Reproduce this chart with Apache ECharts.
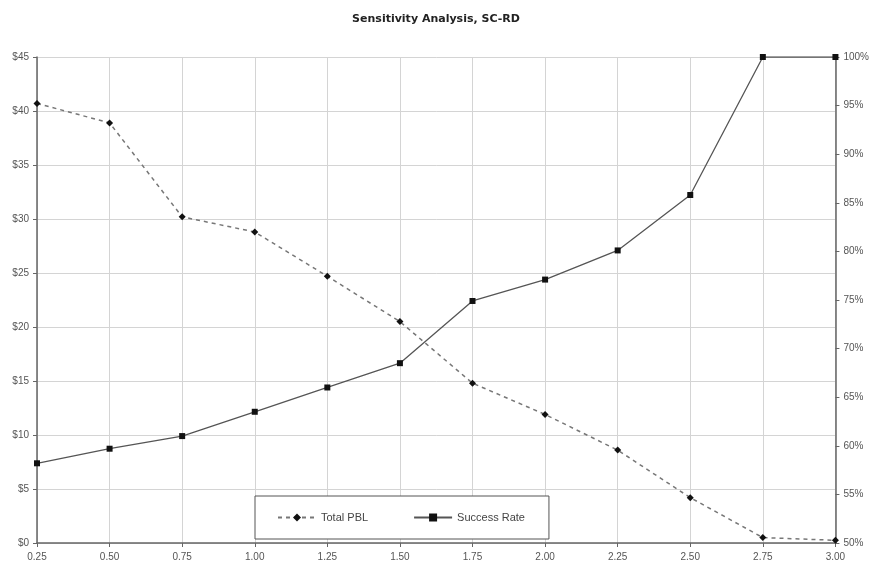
<!DOCTYPE html>
<html><head><meta charset="utf-8">
<script src="https://cdn.jsdelivr.net/npm/echarts@6/dist/echarts.min.js"></script>
<style>html,body{margin:0;padding:0;background:#fff}#c{width:872px;height:573px}</style>
</head><body><div id="c"></div>
<script>
const categories = ["0.25","0.50","0.75","1.00","1.25","1.50","1.75","2.00","2.25","2.50","2.75","3.00"];
const totalPBL = [40.7, 38.9, 30.2, 28.8, 24.7, 20.5, 14.8, 11.9, 8.6, 4.2, 0.5, 0.25];
const successRate = [58.2, 59.7, 61.0, 63.5, 66.0, 68.5, 74.9, 77.1, 80.1, 85.8, 100, 100];
const leftTicks = {min: 0, max: 45, interval: 5};
const rightTicks = {min: 50, max: 100, interval: 5};

const chart = echarts.init(document.getElementById('c'), null, {renderer: 'canvas'});
const labelStyle = {color: '#555', fontSize: 10, fontFamily: 'Liberation Sans, Arial, sans-serif'};
chart.setOption({
  animation: false,
  backgroundColor: '#fff',
  title: {
    text: 'Sensitivity Analysis, SC-RD', left: 'center', top: 9,
    textStyle: {fontSize: 11, fontWeight: 'bold', color: '#222', fontFamily: 'DejaVu Sans, sans-serif'}
  },
  grid: {left: 37, right: 32, top: 57, bottom: 30, containLabel: false},
  legend: {
    left: 255, top: 496,
    padding: [16, 24, 16, 22], itemGap: 45, itemWidth: 38, itemHeight: 10,
    borderColor: '#555', borderWidth: 1, backgroundColor: '#fff',
    textStyle: {color: '#444', fontSize: 11, fontFamily: 'Liberation Sans, Arial, sans-serif'},
    data: ['Total PBL', 'Success Rate']
  },
  xAxis: {
    type: 'category', data: categories, boundaryGap: false,
    axisLine: {lineStyle: {color: '#666', width: 1.5}},
    axisTick: {show: true, length: 4, lineStyle: {color: '#666'}},
    axisLabel: Object.assign({margin: 9}, labelStyle),
    splitLine: {show: true, lineStyle: {color: '#d4d4d4'}}
  },
  yAxis: [
    {
      type: 'value', min: leftTicks.min, max: leftTicks.max, interval: leftTicks.interval,
      axisLine: {show: true, lineStyle: {color: '#666', width: 1.5}},
      axisTick: {show: true, length: 4, lineStyle: {color: '#666'}},
      axisLabel: Object.assign({margin: 8, formatter: v => '$' + v}, labelStyle),
      splitLine: {show: true, lineStyle: {color: '#d4d4d4'}}
    },
    {
      type: 'value', min: rightTicks.min, max: rightTicks.max, interval: rightTicks.interval,
      axisLine: {show: true, lineStyle: {color: '#666', width: 1.5}},
      axisTick: {show: true, length: 4, lineStyle: {color: '#666'}},
      axisLabel: Object.assign({margin: 8, formatter: v => v + '%'}, labelStyle),
      splitLine: {show: false}
    }
  ],
  series: [
    {
      name: 'Total PBL', type: 'line', yAxisIndex: 0, data: totalPBL,
      symbol: 'diamond', symbolSize: 7,
      itemStyle: {color: '#111'},
      lineStyle: {color: '#777', width: 1.5, type: [4, 4]}
    },
    {
      name: 'Success Rate', type: 'line', yAxisIndex: 1, data: successRate,
      symbol: 'rect', symbolSize: 6,
      itemStyle: {color: '#111'},
      lineStyle: {color: '#555', width: 1.3, type: 'solid'}
    }
  ]
});
</script></body></html>
